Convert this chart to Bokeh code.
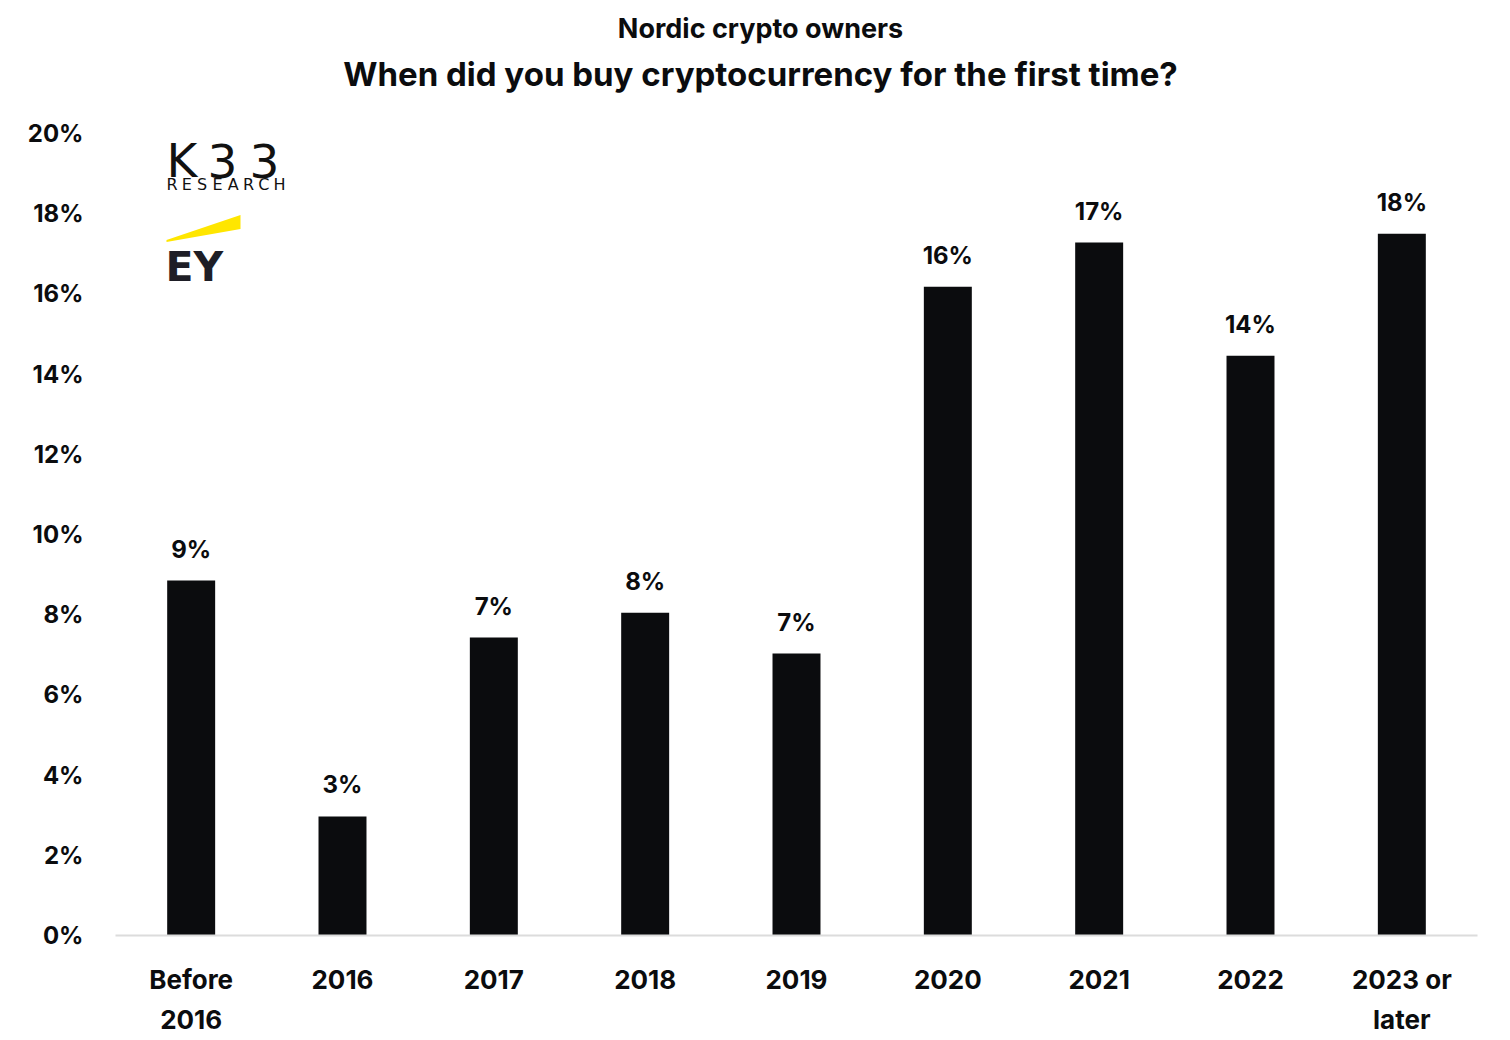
from bokeh.plotting import figure
from bokeh.models import (FactorRange, ColumnDataSource, LabelSet, Label,
                          FixedTicker, PolyAnnotation)
from bokeh.embed import file_html
from bokeh.resources import INLINE
from bokeh.core.properties import value

# ---- data ----
categories = ["Before\n2016", "2016", "2017", "2018", "2019",
              "2020", "2021", "2022", "2023 or\nlater"]
shares = [8.85, 2.97, 7.43, 8.05, 7.03, 16.18, 17.28, 14.46, 17.5]
share_labels = ["9%", "3%", "7%", "8%", "7%", "16%", "17%", "14%", "18%"]
y_ticks = [0, 2, 4, 6, 8, 10, 12, 14, 16, 18, 20]
y_tick_labels = {t: f"{t}%" for t in y_ticks}

subtitle_text = "Nordic crypto owners"
title_text = "When did you buy cryptocurrency for the first time?"

FONT = "Inter"
INK = "#0b0c0e"

# ---- layout helpers (canvas pixel -> data) ----
FRAME_LEFT_PX, CAT_PX = 115.0, 151.33
BASE_PX, UNIT_PX = 935.0, 40.1


def dx(px):
    return (px - FRAME_LEFT_PX) / CAT_PX


def dy(py):
    return (BASE_PX - py) / UNIT_PX


p = figure(width=1510, height=1040, output_backend="svg", toolbar_location=None,
           x_range=FactorRange(*categories, range_padding=0),
           y_range=(0, BASE_PX / UNIT_PX),
           min_border_left=115, min_border_right=33,
           min_border_top=0, min_border_bottom=105)
p.outline_line_color = None
p.background_fill_color = "white"
p.border_fill_color = "white"
p.xgrid.grid_line_color = None
p.ygrid.grid_line_color = None

src = ColumnDataSource(dict(cat=categories, val=shares, lab=share_labels))
p.vbar(x="cat", top="val", width=0.317, source=src, color=INK, line_color=None)

p.add_layout(LabelSet(x="cat", y="val", text="lab", source=src,
                      text_align="center", text_baseline="alphabetic",
                      y_offset=23, text_font=value(FONT), text_font_style="bold",
                      text_font_size="24px", text_color=INK))

# y axis
p.yaxis.ticker = FixedTicker(ticks=y_ticks)
p.yaxis.major_label_overrides = y_tick_labels
p.yaxis.axis_line_color = None
p.yaxis.major_tick_line_color = None
p.yaxis.minor_tick_line_color = None
p.yaxis.major_tick_out = 0
p.yaxis.major_tick_in = 0
p.yaxis.major_label_standoff = 32
p.yaxis.major_label_text_font = FONT
p.yaxis.major_label_text_font_style = "bold"
p.yaxis.major_label_text_font_size = "24px"
p.yaxis.major_label_text_color = INK

# x axis
p.xaxis.axis_line_color = "#dcdcdc"
p.xaxis.axis_line_width = 2
p.xaxis.major_tick_line_color = None
p.xaxis.minor_tick_line_color = None
p.xaxis.major_tick_out = 0
p.xaxis.major_tick_in = 0
p.xaxis.major_label_standoff = 28
p.xaxis.major_label_text_font = FONT
p.xaxis.major_label_text_font_style = "bold"
p.xaxis.major_label_text_font_size = "26px"
p.xaxis.major_label_text_color = INK
p.xaxis.major_label_text_line_height = 1.3

# titles
p.add_layout(Label(x=dx(760), y=dy(28), text=subtitle_text, text_align="center",
                   text_baseline="middle", text_font=FONT,
                   text_font_style="bold", text_font_size="27px", text_color=INK))
p.add_layout(Label(x=dx(760), y=dy(73), text=title_text, text_align="center",
                   text_baseline="middle", text_font=FONT,
                   text_font_style="bold", text_font_size="33px", text_color=INK))

# logos (decoration)
for ch, left in zip("K33", [166, 207, 249]):
    p.add_layout(Label(x=dx(left), y=dy(160), text=ch, text_align="left",
                       text_baseline="alphabetic", text_font="DejaVu Sans",
                       text_font_size="47px", text_color="#111111"))
for i, ch in enumerate("RESEARCH"):
    p.add_layout(Label(x=dx(166 + i * 15.3), y=dy(184), text=ch, text_align="left",
                       text_baseline="alphabetic", text_font="DejaVu Sans",
                       text_font_size="16px", text_color="#111111"))
p.add_layout(PolyAnnotation(xs=[dx(166), dx(240), dx(240), dx(166)],
                            ys=[dy(239.5), dy(214.5), dy(228.5), dy(241.5)],
                            fill_color="#ffe600", fill_alpha=1.0, line_color=None))
p.add_layout(Label(x=dx(165), y=dy(266), text="EY", text_align="left",
                   text_baseline="alphabetic", text_font="DejaVu Sans",
                   text_font_style="bold", text_font_size="41px", text_color="#1e1e26"))

open("out.html", "w").write(file_html(p, INLINE))
